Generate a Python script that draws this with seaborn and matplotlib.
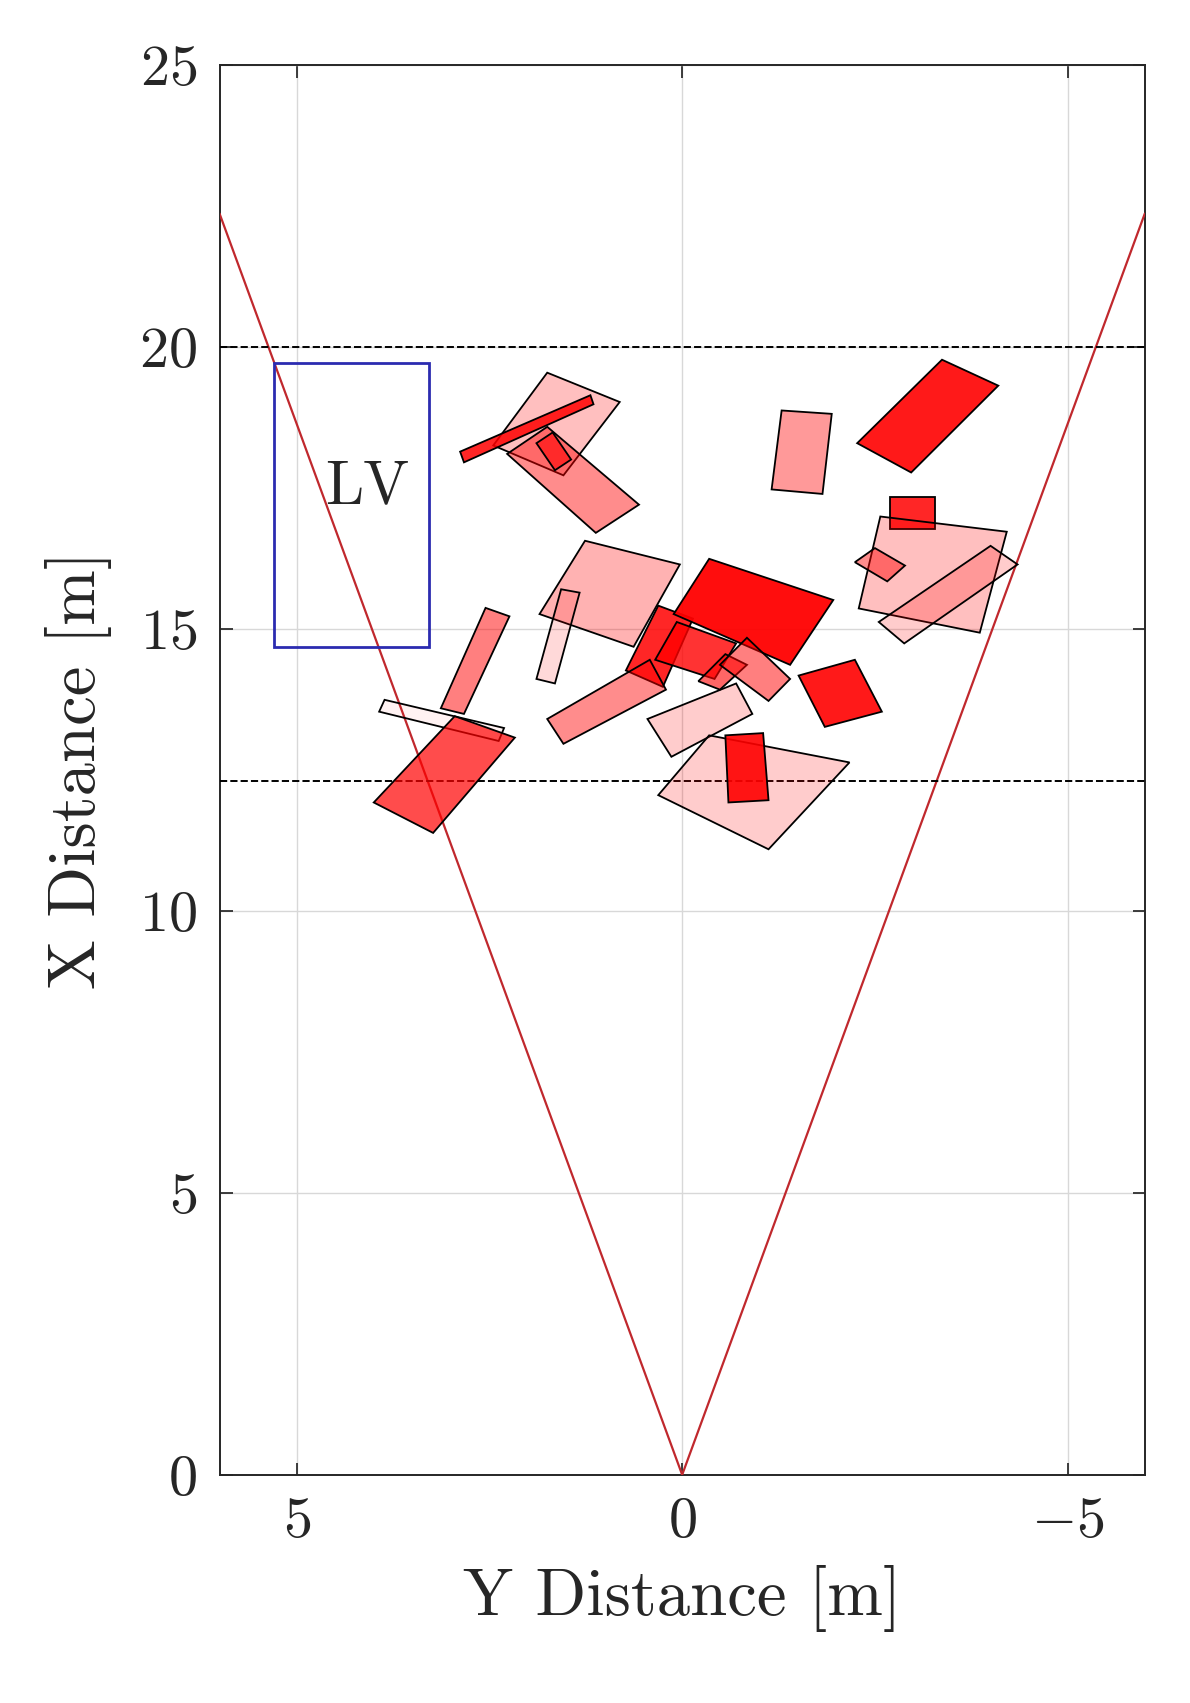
"""Top-down view of detected objects inside the sensor field of view."""

import matplotlib.pyplot as plt
import numpy as np
import seaborn as sns
from matplotlib.patches import Polygon, Rectangle

sns.set_theme(style="ticks")
plt.rcParams["font.family"] = ["serif"]
plt.rcParams["font.serif"] = ["cmr10", "DejaVu Serif"]
plt.rcParams["mathtext.fontset"] = "cm"
plt.rcParams["axes.formatter.use_mathtext"] = True

# object footprints: corner coordinates (Y distance, X distance) in metres
obj_y = [
    [2.45, 1.75, 0.81, 1.54], [2.88, 1.19, 1.15, 2.83], [2.27, 1.75, 0.56, 1.12],
    [1.89, 1.68, 1.44, 1.65], [-1.29, -1.94, -1.82, -1.16], [-2.27, -3.37, -4.10, -2.97],
    [-2.69, -3.28, -3.28, -2.69], [-2.29, -2.57, -4.21, -3.86], [-2.55, -4.00, -4.35, -2.88],
    [-2.24, -2.50, -2.89, -2.66], [1.85, 1.26, 0.03, 0.63], [1.89, 1.57, 1.33, 1.65],
    [3.13, 2.55, 2.24, 2.83], [3.93, 3.86, 2.31, 2.38], [4.00, 2.95, 2.17, 3.23],
    [0.73, 0.31, -0.14, 0.25], [0.35, 0.07, -0.70, -0.42], [0.11, -0.35, -1.96, -1.40],
    [-0.21, -0.56, -0.84, -0.49], [-0.49, -0.84, -1.40, -1.12], [1.75, 0.42, 0.21, 1.54],
    [0.45, -0.70, -0.91, 0.14], [0.31, -0.35, -2.17, -1.12], [-0.56, -1.05, -1.12, -0.60],
    [-1.51, -2.24, -2.59, -1.85],
]
obj_x = [
    [18.25, 19.54, 19.02, 17.72], [18.14, 19.14, 18.98, 17.95], [18.10, 18.58, 17.20, 16.70],
    [18.29, 18.48, 18.00, 17.81], [18.87, 18.81, 17.39, 17.47], [18.29, 19.77, 19.31, 17.77],
    [17.33, 17.33, 16.76, 16.76], [15.36, 16.99, 16.72, 14.93], [15.12, 16.47, 16.14, 14.74],
    [16.18, 16.43, 16.12, 15.84], [15.26, 16.56, 16.14, 14.68], [14.11, 15.70, 15.64, 14.03],
    [13.59, 15.37, 15.22, 13.49], [13.53, 13.74, 13.24, 13.01], [11.92, 13.45, 13.07, 11.38],
    [14.26, 15.41, 15.18, 13.97], [14.45, 15.12, 14.74, 14.11], [15.26, 16.24, 15.51, 14.36],
    [14.07, 14.55, 14.36, 13.92], [14.36, 14.84, 14.11, 13.72], [13.40, 14.45, 13.92, 12.96],
    [13.40, 14.03, 13.49, 12.73], [12.05, 13.11, 12.63, 11.09], [13.11, 13.15, 11.96, 11.92],
    [14.17, 14.45, 13.53, 13.26],
]
# detection confidence shown as fill opacity
obj_conf = [0.25, 0.85, 0.45, 0.6, 0.4, 0.9, 0.85, 0.25, 0.2, 0.45, 0.3, 0.15, 0.5,
            0.05, 0.7, 0.85, 0.8, 0.95, 0.6, 0.5, 0.45, 0.2, 0.2, 0.9, 0.9]

fov_range = 22.36
fov_half_width = 6.0
roi_near, roi_far = 12.3, 20.0
lv_y = (3.28, 5.29)
lv_x = (14.68, 19.71)

fig = plt.figure(figsize=(11.9, 17.03), dpi=100)
ax = fig.add_axes([0.1845, 0.134, 0.7775, 0.828])

ax.plot([fov_half_width, 0, -fov_half_width], [fov_range, 0, fov_range],
        color="#c0282d", linewidth=1.6, zorder=3)
for xd in (roi_near, roi_far):
    ax.axhline(xd, color="black", linestyle="--", linewidth=1.4, zorder=3)

ax.add_patch(Rectangle((lv_y[0], lv_x[0]), lv_y[1] - lv_y[0], lv_x[1] - lv_x[0],
                       fill=False, edgecolor="#2b2bb0", linewidth=2, zorder=4))
ax.text(np.mean(lv_y) - 0.2, 17.5, "LV", fontsize=44, ha="center", va="center", zorder=5)

for ys, xs, conf in zip(obj_y, obj_x, obj_conf):
    ax.add_patch(Polygon(np.column_stack([ys, xs]), closed=True,
                         facecolor=(1, 0, 0, conf), edgecolor="black",
                         linewidth=1.3, zorder=4))

ax.set_xlim(6, -6)
ax.set_ylim(0, 25)
ax.set_xticks([5, 0, -5])
ax.set_yticks([0, 5, 10, 15, 20, 25])
ax.grid(True, color="#d8d8d8", linewidth=1)
ax.tick_params(direction="in", length=9, top=True, right=True, labelsize=42, pad=16)
for side in ax.spines.values():
    side.set_linewidth(1.4)
ax.set_xlabel("Y Distance [m]", fontsize=48, labelpad=12)
ax.set_ylabel("X Distance [m]", fontsize=48, labelpad=20)

fig.savefig("out.png", dpi=100)
plt.close(fig)
